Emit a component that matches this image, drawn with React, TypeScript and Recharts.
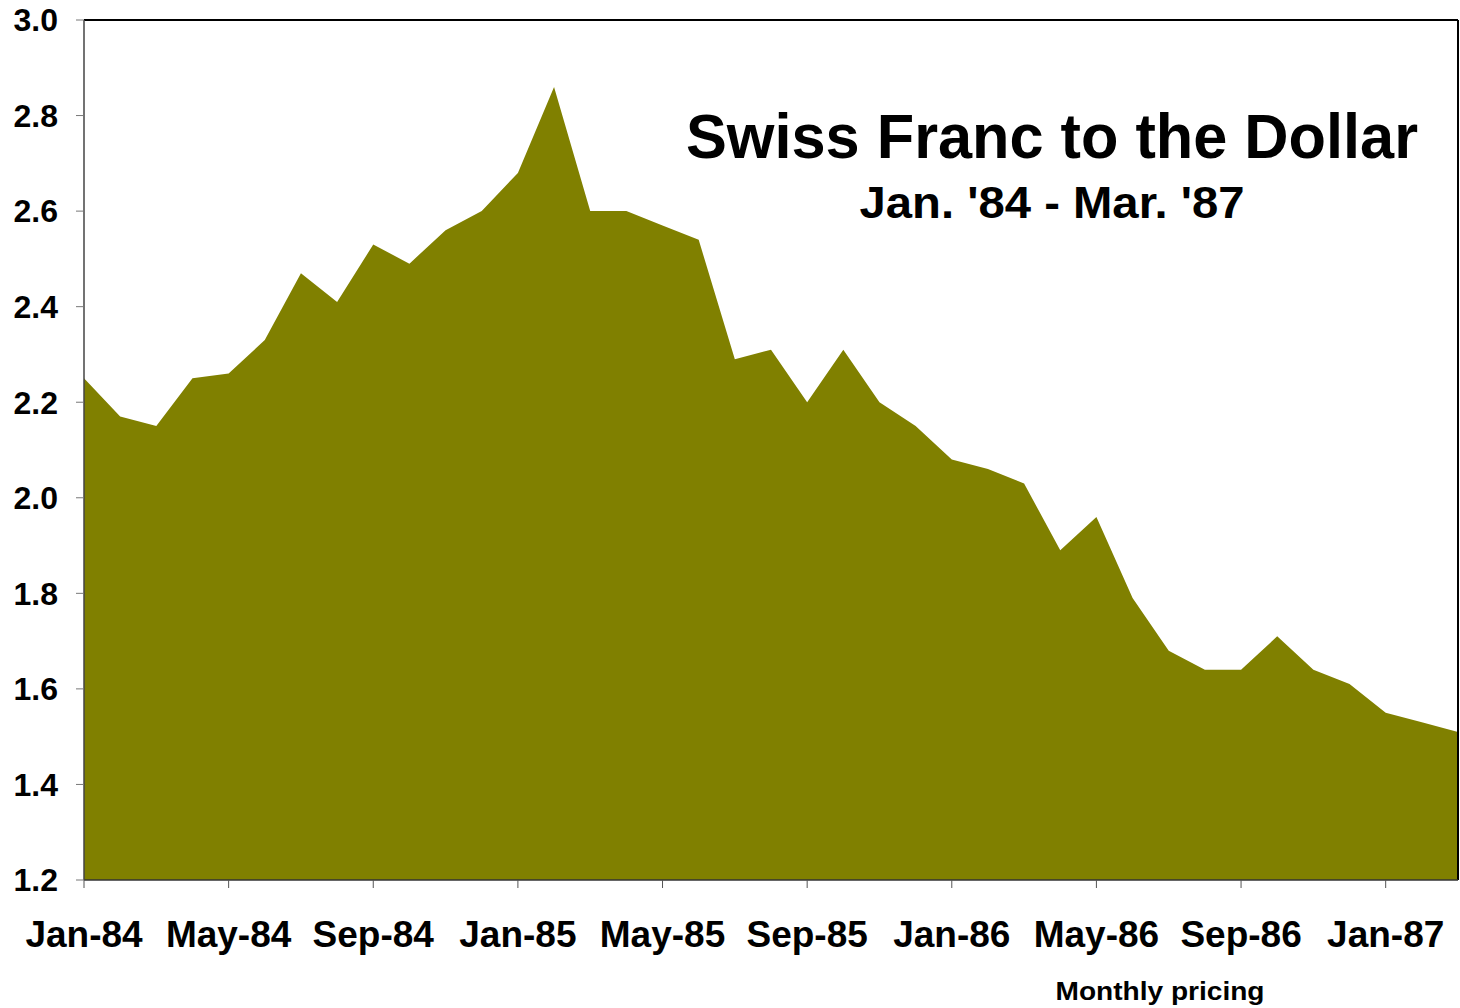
import React from 'react';
import { AreaChart, Area, XAxis, YAxis, ReferenceLine } from 'recharts';

const months = [
  'Jan-84', 'Feb-84', 'Mar-84', 'Apr-84', 'May-84', 'Jun-84', 'Jul-84', 'Aug-84', 'Sep-84', 'Oct-84', 'Nov-84', 'Dec-84',
  'Jan-85', 'Feb-85', 'Mar-85', 'Apr-85', 'May-85', 'Jun-85', 'Jul-85', 'Aug-85', 'Sep-85', 'Oct-85', 'Nov-85', 'Dec-85',
  'Jan-86', 'Feb-86', 'Mar-86', 'Apr-86', 'May-86', 'Jun-86', 'Jul-86', 'Aug-86', 'Sep-86', 'Oct-86', 'Nov-86', 'Dec-86',
  'Jan-87', 'Feb-87', 'Mar-87',
];

const francPerDollar = [
  2.25, 2.17, 2.15, 2.25, 2.26, 2.33, 2.47, 2.41, 2.53, 2.49, 2.56, 2.60,
  2.68, 2.86, 2.60, 2.60, 2.57, 2.54, 2.29, 2.31, 2.20, 2.31, 2.20, 2.15,
  2.08, 2.06, 2.03, 1.89, 1.96, 1.79, 1.68, 1.64, 1.64, 1.71, 1.64, 1.61,
  1.55, 1.53, 1.51,
];

const yTicks = [1.2, 1.4, 1.6, 1.8, 2.0, 2.2, 2.4, 2.6, 2.8, 3.0];

const data = months.map((m, i) => ({ month: m, value: francPerDollar[i] }));

const FONT = '"Liberation Sans", Arial, sans-serif';

const App: React.FC = () => {
  return (
    <div style={{ position: 'absolute', left: 0, top: 0, width: 1460, height: 1008, background: '#fff', fontFamily: FONT }}>
      <AreaChart width={1460} height={1008} data={data} margin={{ top: 20, right: 2, left: 0, bottom: 68 }}>
        <XAxis
          dataKey="month"
          interval={3}
          height={60}
          tickSize={8}
          tickMargin={33}
          axisLine={{ stroke: '#333', strokeWidth: 1.5 }}
          tickLine={{ stroke: '#555' }}
          tick={{ fill: '#000', fontSize: 37, fontWeight: 'bold', fontFamily: FONT }}
        />
        <YAxis
          domain={[1.2, 3.0]}
          ticks={yTicks}
          width={84}
          tickSize={8}
          tickMargin={18}
          tickFormatter={(v: number) => v.toFixed(1)}
          axisLine={{ stroke: '#444', strokeWidth: 1.5 }}
          tickLine={{ stroke: '#777' }}
          tick={{ fill: '#000', fontSize: 32, fontWeight: 'bold', fontFamily: FONT }}
        />
        <Area
          type="linear"
          dataKey="value"
          stroke="none"
          fill="#808000"
          fillOpacity={1}
          isAnimationActive={false}
        />
        <ReferenceLine y={3.0} stroke="#000" strokeWidth={2} />
        <ReferenceLine x="Mar-87" stroke="#000" strokeWidth={2} />
      </AreaChart>
      <svg width={1460} height={1008} style={{ position: 'absolute', left: 0, top: 0, pointerEvents: 'none' }}>
        <text x={1052} y={158} textAnchor="middle" fontFamily={FONT} fontWeight="bold" fontSize={63}
          textLength={732} lengthAdjust="spacingAndGlyphs">Swiss Franc to the Dollar</text>
        <text x={1052} y={218} textAnchor="middle" fontFamily={FONT} fontWeight="bold" fontSize={45}
          textLength={385} lengthAdjust="spacingAndGlyphs">Jan. '84 - Mar. '87</text>
        <text x={1160} y={1000} textAnchor="middle" fontFamily={FONT} fontWeight="bold" fontSize={26}
          textLength={209} lengthAdjust="spacingAndGlyphs">Monthly pricing</text>
      </svg>
    </div>
  );
};

export default App;
